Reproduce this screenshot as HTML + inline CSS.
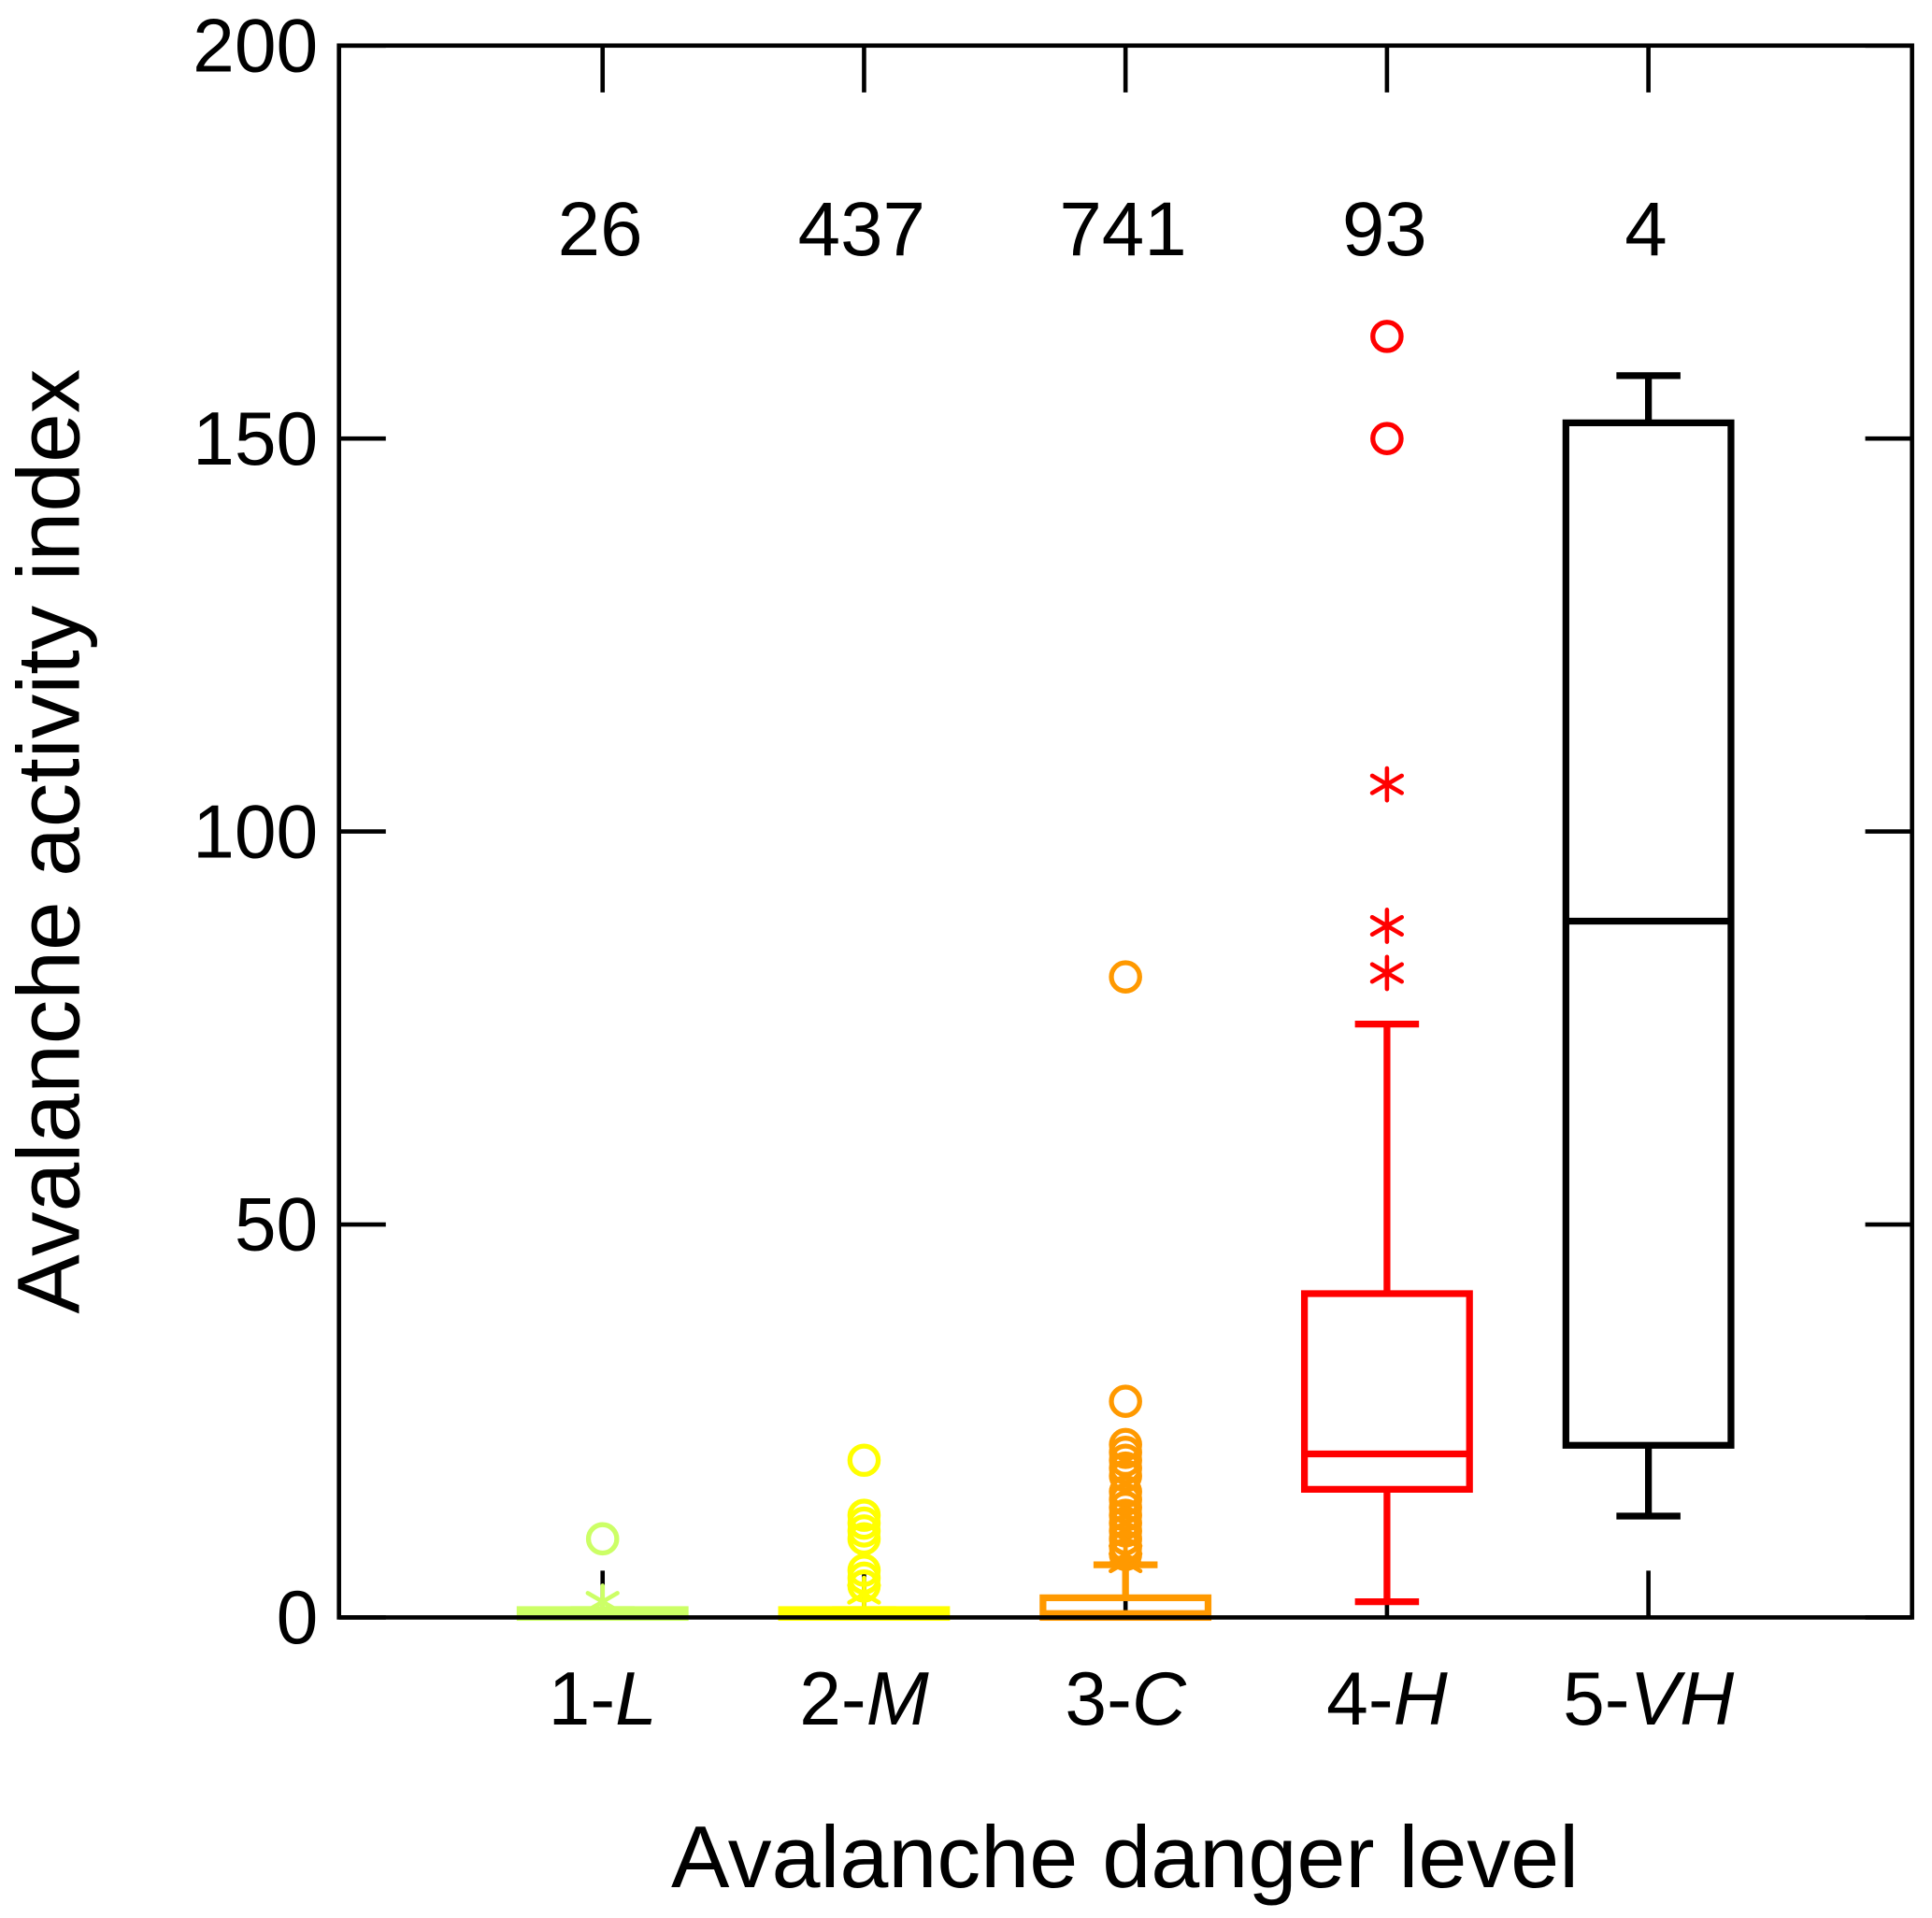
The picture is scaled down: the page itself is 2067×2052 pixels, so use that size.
<!DOCTYPE html>
<html><head><meta charset="utf-8"><style>
html,body{margin:0;padding:0;background:#fff;}
svg{display:block;font-family:"Liberation Sans",Arial,sans-serif;}
</style></head>
<body>
<svg id="chart" width="2067" height="2052" viewBox="0 0 1568 1557" xmlns="http://www.w3.org/2000/svg">
<rect x="0" y="0" width="1568" height="1557" fill="#fff"/>
<g id="marks"></g>
<rect x="275" y="37" width="1277" height="1276" fill="none" stroke="#000" stroke-width="3.5"/>
<g id="axes"></g>
<text x="913" y="1532" font-size="71" text-anchor="middle">Avalanche danger level</text>
<text transform="translate(64,683) rotate(-90)" font-size="72" text-anchor="middle">Avalanche activity index</text>
</svg>
<script>
const categories = ["1-", "2-", "3-", "4-", "5-"];
const categoryItalic = ["L", "M", "C", "H", "VH"];
const counts = ["26", "437", "741", "93", "4"];
const colors = ["#ccff66", "#ffff00", "#ff9900", "#ff0000", "#000000"];
const whiskerLow = [0, 0, 0, 2, 12.9];
const q1 = [0, 0, 0, 16.3, 21.9];
const medians = [0.5, 0.5, 0.5, 20.8, 88.6];
const q3 = [1, 1, 2.5, 41.2, 152];
const whiskerHigh = [1, 1, 6.7, 75.5, 158];
const outlierCircles = [[10], [20, 13, 12, 11, 10, 6, 5, 4], [81.5, 27.5, 22, 21, 20, 19, 18, 16, 15, 14, 13, 12, 11, 10, 9, 8], [163, 150], []];
const outlierStars = [[2], [3], [7, 8], [106, 88, 82], []];
const yTicks = [0, 50, 100, 150, 200];

const NS = "http://www.w3.org/2000/svg";
const L = 275, R = 1552, T = 37, B = 1313;
function yS(v) { return B - (v / 200) * (B - T); }
function xS(i) { return 489 + i * 212.25; }
function mk(tag, attrs, parent) {
  const e = document.createElementNS(NS, tag);
  for (const k in attrs) e.setAttribute(k, attrs[k]);
  parent.appendChild(e);
  return e;
}
const axes = document.getElementById("axes");
const marks = document.getElementById("marks");

yTicks.forEach(v => {
  const y = yS(v);
  const a = mk("line", {x1: L, x2: L + 38, y1: y, y2: y, stroke: "#000", "stroke-width": 3.5}, axes);
  
  
  const b = mk("line", {x1: R - 38, x2: R, y1: y, y2: y, stroke: "#000", "stroke-width": 3.5}, axes);
  
  
  const t = mk("text", {x: 258, y: y + 21, "font-size": 61, "text-anchor": "end"}, axes);
  t.textContent = v;
  
  
});

categories.forEach((c, i) => {
  const x = xS(i);
  const col = colors[i];
  const tt = mk("line", {x1: x, x2: x, y1: T, y2: T + 38, stroke: "#000", "stroke-width": 3.5}, marks);
  
  
  const tb = mk("line", {x1: x, x2: x, y1: B - 38, y2: B, stroke: "#000", "stroke-width": 3.5}, marks);
  
  

  const g = mk("g", {}, marks);
  
  
  const sw = 5.5;
  mk("line", {x1: x, x2: x, y1: yS(whiskerLow[i]), y2: yS(q1[i]), stroke: col, "stroke-width": sw}, g);
  mk("line", {x1: x, x2: x, y1: yS(q3[i]), y2: yS(whiskerHigh[i]), stroke: col, "stroke-width": sw}, g);
  mk("line", {x1: x - 26, x2: x + 26, y1: yS(whiskerLow[i]), y2: yS(whiskerLow[i]), stroke: col, "stroke-width": sw}, g);
  mk("line", {x1: x - 26, x2: x + 26, y1: yS(whiskerHigh[i]), y2: yS(whiskerHigh[i]), stroke: col, "stroke-width": sw}, g);
  const yt = yS(q3[i]), yb = yS(q1[i]);
  mk("rect", {x: x - 67, y: Math.min(yt, yb - 6), width: 134, height: Math.max(yb - yt, 6), fill: "none", stroke: col, "stroke-width": sw}, g);
  mk("line", {x1: x - 69, x2: x + 69, y1: yS(medians[i]), y2: yS(medians[i]), stroke: col, "stroke-width": sw}, g);

  outlierCircles[i].forEach(v => {
    const o = mk("circle", {cx: x, cy: yS(v), r: 11.5, fill: "none", stroke: col, "stroke-width": 4}, marks);
    
    
  });
  outlierStars[i].forEach(v => {
    const cy = yS(v);
    const s = mk("path", {d: `M${x} ${cy-13}V${cy+13}M${x-12} ${cy-7}L${x+12} ${cy+7}M${x-12} ${cy+7}L${x+12} ${cy-7}`, stroke: col, "stroke-width": 3.5, "stroke-linecap": "round", fill: "none"}, marks);
    
    
  });

  const n = mk("text", {x: x - 2, y: 207, "font-size": 62, "text-anchor": "middle"}, axes);
  n.textContent = counts[i];
  
  

  const xl = mk("text", {x: x, y: 1400, "font-size": 61, "text-anchor": "middle"}, axes);
  
  
  const s1 = mk("tspan", {}, xl); s1.textContent = c;
  const s2 = mk("tspan", {"font-style": "italic"}, xl); s2.textContent = categoryItalic[i];
});
</script>
</body></html>
